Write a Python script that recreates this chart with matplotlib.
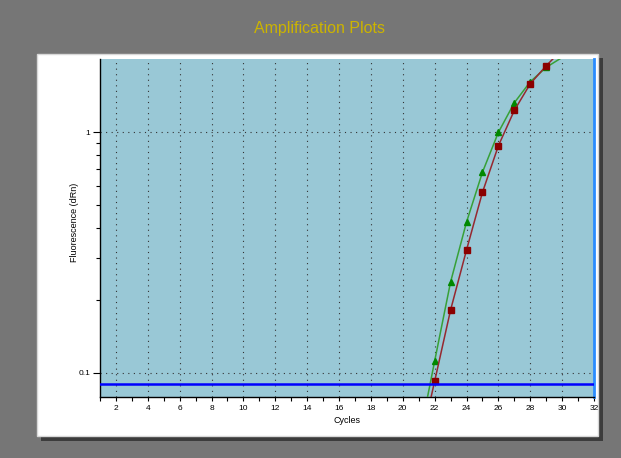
import matplotlib
matplotlib.use("Agg")
import matplotlib.pyplot as plt
from matplotlib.patches import Rectangle
from matplotlib.ticker import FixedLocator, NullFormatter

# data (cycles 21 and 30 sit outside the visible range)
cycles = [21, 22, 23, 24, 25, 26, 27, 28, 29, 30]
red_dRn = [0.047, 0.0924, 0.1826, 0.324, 0.562, 0.877, 1.23, 1.586, 1.884, 2.2]
green_dRn = [0.052, 0.112, 0.2386, 0.423, 0.681, 0.997, 1.323, 1.617, 1.856, 2.04]
threshold = 0.090
x_ticks = list(range(1, 33))
x_labels = [str(c) if c % 2 == 0 else "" for c in x_ticks]

plt.rcParams['font.family'] = ['Liberation Sans', 'DejaVu Sans']

fig = plt.figure(figsize=(6.21, 4.58), dpi=100)
fig.patch.set_facecolor("#767676")

W, H = 621.0, 458.0
# shadow + white panel (pixel boxes converted to figure fractions)
fig.patches.append(Rectangle((41 / W, 1 - 441 / H), 562 / W, 383 / H,
                             transform=fig.transFigure, facecolor="#3c3c3c",
                             edgecolor="none", zorder=0))
fig.patches.append(Rectangle((37 / W, 1 - 436 / H), 561 / W, 382 / H,
                             transform=fig.transFigure, facecolor="white",
                             edgecolor="#d8d8d8", linewidth=1, zorder=1))

fig.text(0.515, 1 - 28 / H, "Amplification Plots", ha="center", va="center",
         fontsize=11.5, color="#ccb400")

ax = fig.add_axes([100 / W, 1 - 397 / H, 494 / W, 338 / H])
ax.set_zorder(5)
ax.set_facecolor("#99c8d6")
ax.set_yscale("log")
ax.set_xlim(1, 32)
ax.set_ylim(0.0795, 2.01)

ax.plot(cycles, green_dRn, color="#37a037", linewidth=1.1, marker="^",
        markersize=5, markerfacecolor="#008800", markeredgecolor="#008800",
        markevery=slice(1, -1), zorder=4)
ax.plot(cycles, red_dRn, color="#962830", linewidth=1.1, marker="s",
        markersize=5, markerfacecolor="#8b0000", markeredgecolor="#8b0000",
        markevery=slice(1, -1), zorder=4)
ax.axhline(threshold, color="#0000ff", linewidth=1.8, zorder=5)

# grid on even cycles and on decades
for c in range(2, 32, 2):
    ax.axvline(c, color="#333333", linestyle=(0, (1, 4)), linewidth=0.8, zorder=1)
for d in [0.1, 1]:
    ax.axhline(d, color="#333333", linestyle=(0, (1, 4)), linewidth=0.8, zorder=1)

ax.set_xticks(x_ticks)
ax.set_xticklabels(x_labels)
ax.yaxis.set_major_locator(FixedLocator([0.1, 1]))
ax.set_yticklabels(["0.1", "1"])
ax.yaxis.set_minor_locator(FixedLocator([0.2, 0.3, 0.4, 0.5, 0.6, 0.7, 0.8, 0.9]))
ax.yaxis.set_minor_formatter(NullFormatter())
ax.tick_params(axis="x", length=3, width=0.8, labelsize=6, pad=3, colors="black")
ax.tick_params(axis="y", which="major", length=5, width=0.8, labelsize=6, pad=2)
ax.tick_params(axis="y", which="minor", length=3, width=0.8)

ax.spines["top"].set_visible(False)
ax.spines["right"].set_color("#2a8cff")
ax.spines["right"].set_linewidth(2)
ax.spines["left"].set_linewidth(1)
ax.spines["bottom"].set_linewidth(1)

ax.set_xlabel("Cycles", fontsize=6.5)
ax.set_ylabel("Fluorescence (dRn)", fontsize=6.5)
ax.xaxis.set_label_coords(0.5, -(416 - 397) / 338)
ax.yaxis.set_label_coords((79 - 100) / 494, (397 - 222) / 338)

fig.savefig("out.png", dpi=100, facecolor=fig.get_facecolor())
